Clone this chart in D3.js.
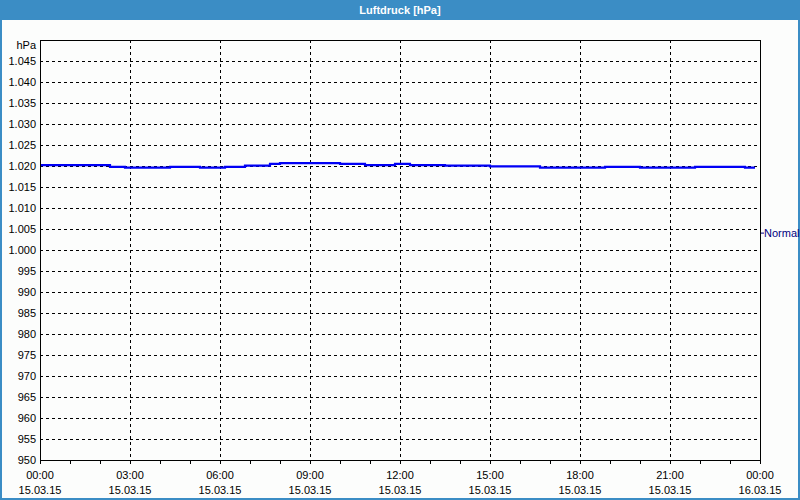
<!DOCTYPE html>
<html>
<head>
<meta charset="utf-8">
<script src="https://cdn.jsdelivr.net/npm/d3@7"></script>
<style>
  body { margin: 0; background: #fff; }
  svg { display: block; font-family: "Liberation Sans", Arial, sans-serif; }
</style>
</head>
<body>
<svg width="800" height="500"></svg>
<script>
const svg = d3.select("svg");
const width = +svg.attr("width");
const height = +svg.attr("height");

// readings (15.03.15), step changes
const times = ["00:00", "02:20", "02:50", "04:20", "05:20", "06:10", "06:50", "07:40", "08:00",
  "10:00", "10:50", "11:50", "12:20", "13:30", "15:00", "16:40", "18:50", "20:00", "21:50", "23:30", "23:50"];
const pressure = [1020.2, 1019.8, 1019.6, 1019.8, 1019.6, 1019.8, 1020.1, 1020.5, 1020.7,
  1020.5, 1020.2, 1020.5, 1020.2, 1020.1, 1019.9, 1019.6, 1019.8, 1019.6, 1019.8, 1019.6, 1019.6];
const yTicks = [950, 955, 960, 965, 970, 975, 980, 985, 990, 995, 1000, 1005, 1010, 1015, 1020, 1025, 1030, 1035, 1040, 1045];
const title = "Luftdruck [hPa]";
const unit = "hPa";
const seriesName = "Normal";

const parseTime = d3.timeParse("%d.%m.%y %H:%M");
const data = times.map((t, i) => ({ date: parseTime("15.03.15 " + t), value: pressure[i] }));

const margin = { top: 40, right: 40, bottom: 40, left: 40 };
const x = d3.scaleTime()
  .domain([parseTime("15.03.15 00:00"), parseTime("16.03.15 00:00")])
  .range([margin.left, width - margin.right]);
const y = d3.scaleLinear()
  .domain([950, 1050])
  .range([height - margin.bottom, margin.top]);

// window frame
svg.append("rect").attr("width", width).attr("height", height).attr("fill", "#3b8dc5");
svg.append("rect").attr("x", 2).attr("y", 20).attr("width", width - 4).attr("height", height - 22).attr("fill", "#fcfdfc");
svg.append("text")
  .attr("x", width / 2).attr("y", 14)
  .attr("text-anchor", "middle")
  .attr("fill", "#fff")
  .style("font-weight", "bold")
  .style("font-size", "11px")
  .text(title);

// grid
const grid = svg.append("g")
  .attr("stroke", "#000")
  .attr("stroke-dasharray", "3,3")
  .attr("shape-rendering", "crispEdges");
grid.selectAll(".hg")
  .data(yTicks.slice(1))
  .join("line")
  .attr("x1", margin.left).attr("x2", width - margin.right)
  .attr("y1", d => y(d) + 0.5).attr("y2", d => y(d) + 0.5);
grid.selectAll(".vg")
  .data(x.ticks(d3.timeHour.every(3)).slice(1, -1))
  .join("line")
  .attr("x1", d => x(d) + 0.5).attr("x2", d => x(d) + 0.5)
  .attr("y1", margin.top).attr("y2", height - margin.bottom);

// y labels
const fmt = d => d >= 1000 ? "1." + String(d - 1000).padStart(3, "0") : String(d);
svg.append("g")
  .selectAll("text")
  .data(yTicks)
  .join("text")
  .attr("x", margin.left - 4)
  .attr("y", d => y(d) + 4)
  .attr("text-anchor", "end")
  .style("font-size", "11px")
  .attr("fill", "#000")
  .text(fmt);
svg.append("text")
  .attr("x", margin.left - 4).attr("y", margin.top + 9)
  .attr("text-anchor", "end")
  .style("font-size", "11px")
  .text(unit);

// x axis
const xAxis = svg.append("g")
  .attr("transform", `translate(0,${height - margin.bottom})`)
  .call(d3.axisBottom(x).ticks(d3.timeHour.every(1)).tickSize(4).tickFormat(""));
xAxis.select(".domain").remove();
xAxis.selectAll("line").attr("stroke", "#000").attr("shape-rendering", "crispEdges");

const labels = svg.append("g")
  .selectAll("g")
  .data(x.ticks(d3.timeHour.every(3)))
  .join("g")
  .attr("transform", d => `translate(${x(d)},${height - margin.bottom})`)
  .style("font-size", "11px")
  .attr("text-anchor", "middle");
labels.append("text").attr("y", 19).text(d3.timeFormat("%H:%M"));
labels.append("text").attr("y", 34).text(d3.timeFormat("%d.%m.%y"));

// series
const line = d3.line()
  .x(d => x(d.date))
  .y(d => y(d.value))
  .curve(d3.curveStepAfter);
svg.append("path")
  .datum(data)
  .attr("fill", "none")
  .attr("stroke", "#0000f5")
  .attr("stroke-width", 2.2)
  .attr("d", line);

// plot frame
svg.append("rect")
  .attr("x", margin.left + 0.5).attr("y", margin.top + 0.5)
  .attr("width", width - margin.left - margin.right)
  .attr("height", height - margin.top - margin.bottom)
  .attr("fill", "none")
  .attr("stroke", "#000");

// legend
const legendY = y(1004.5) + 2;
svg.append("line")
  .attr("x1", width - margin.right + 1).attr("x2", width - margin.right + 4)
  .attr("y1", legendY).attr("y2", legendY)
  .attr("stroke", "#000080");
svg.append("text")
  .attr("x", width - margin.right + 4).attr("y", legendY + 4)
  .style("font-size", "11px")
  .attr("fill", "#000080")
  .text(seriesName);
</script>
</body>
</html>
